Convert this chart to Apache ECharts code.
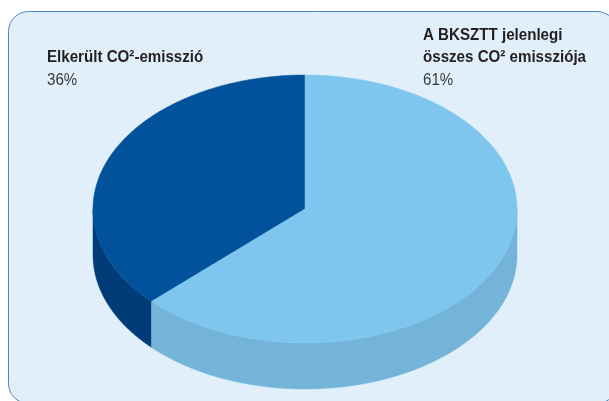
<!DOCTYPE html>
<html>
<head>
<meta charset="utf-8">
<style>
  html, body { margin: 0; padding: 0; background: #ffffff; }
  #chart { width: 609px; height: 401px; }
</style>
<script src="https://cdn.jsdelivr.net/npm/echarts@6/dist/echarts.min.js"></script>
</head>
<body>
<div id="chart"></div>
<script>
// Emission shares shown as a tilted (pseudo-3D) pie
const categories = ['Elkerült CO²-emisszió', 'A BKSZTT jelenlegi\nösszes CO² emissziója'];
const values = [36, 61];
const valueLabels = ['36%', '61%'];

// Layout of the tilted disc
const disc = { cx: 305, cy: 209, rx: 212, ry: 134, depth: 46 };
const topColors = ['#01529B', '#7FC6EE'];
const sideColors = ['#003C77', '#73B4D8'];
const labelAnchors = [[47, 46.5], [423, 24]];
const FONT = '"Liberation Sans", Arial, sans-serif';
const LABEL_SQUEEZE = 0.945; // condensed look for the label face

const total = values.reduce((s, v) => s + v, 0);
const DEG = Math.PI / 180;

function pt(t, dy) {
  return [disc.cx + disc.rx * Math.cos(t * DEG), disc.cy + dy + disc.ry * Math.sin(t * DEG)];
}
function arc(t0, t1, dy) {
  const pts = [];
  const n = Math.max(2, Math.ceil(Math.abs(t1 - t0) / 0.5));
  for (let i = 0; i <= n; i++) pts.push(pt(t0 + (t1 - t0) * i / n, dy));
  return pts;
}

function renderItem(params, api) {
  const idx = params.dataIndex;
  let before = 0;
  for (let i = 0; i < idx; i++) before += values[i];
  const v = api.value(0);
  // slices run counter-clockwise from 12 o'clock
  const tA = -90 - 360 * before / total;
  const tB = -90 - 360 * (before + v) / total;
  const lo = Math.min(tA, tB), hi = Math.max(tA, tB);

  const children = [];
  // visible rim: the front half of the disc (sin t > 0)
  for (let k = -2; k <= 1; k++) {
    const a = Math.max(lo, 360 * k), b = Math.min(hi, 360 * k + 180);
    if (b > a) {
      const pts = arc(a, b, 0).concat(arc(b, a, disc.depth));
      children.push({
        type: 'polygon', z2: 1,
        shape: { points: pts },
        style: { fill: sideColors[idx], stroke: sideColors[idx], lineWidth: 0.5 }
      });
    }
  }
  // top face
  const topPts = [[disc.cx, disc.cy]].concat(arc(tA, tB, 0));
  children.push({
    type: 'polygon', z2: 2,
    shape: { points: topPts },
    style: { fill: topColors[idx], stroke: topColors[idx], lineWidth: 0.5 }
  });
  // label
  const nameLines = categories[idx].split('\n').map(s => '{n|' + s + '}');
  children.push({
    type: 'text', z2: 3,
    x: labelAnchors[idx][0], y: labelAnchors[idx][1],
    scaleX: LABEL_SQUEEZE,
    style: {
      text: nameLines.join('\n') + '\n{v|' + valueLabels[idx] + '}',
      align: 'left', verticalAlign: 'top',
      rich: {
        n: { fontFamily: FONT, fontSize: 16, fontWeight: 'bold', fill: '#231F20', lineHeight: 22.7 },
        v: { fontFamily: FONT, fontSize: 16, fontWeight: 'normal', fill: '#3A3A3A', lineHeight: 22.7 }
      }
    }
  });
  return { type: 'group', children };
}

const chart = echarts.init(document.getElementById('chart'), null, { renderer: 'canvas' });
chart.setOption({
  animation: false,
  backgroundColor: '#ffffff',
  graphic: [{
    type: 'rect', z: 0,
    shape: { x: 8.5, y: 11.5, width: 608.5, height: 392, r: 20 },
    style: { fill: '#E1EFFA', stroke: '#4A87C6', lineWidth: 1 }
  }],
  series: [{
    type: 'custom',
    coordinateSystem: 'none',
    z: 2,
    renderItem: renderItem,
    data: values.map((v, i) => ({ name: categories[i], value: [v] }))
  }]
});
</script>
</body>
</html>
